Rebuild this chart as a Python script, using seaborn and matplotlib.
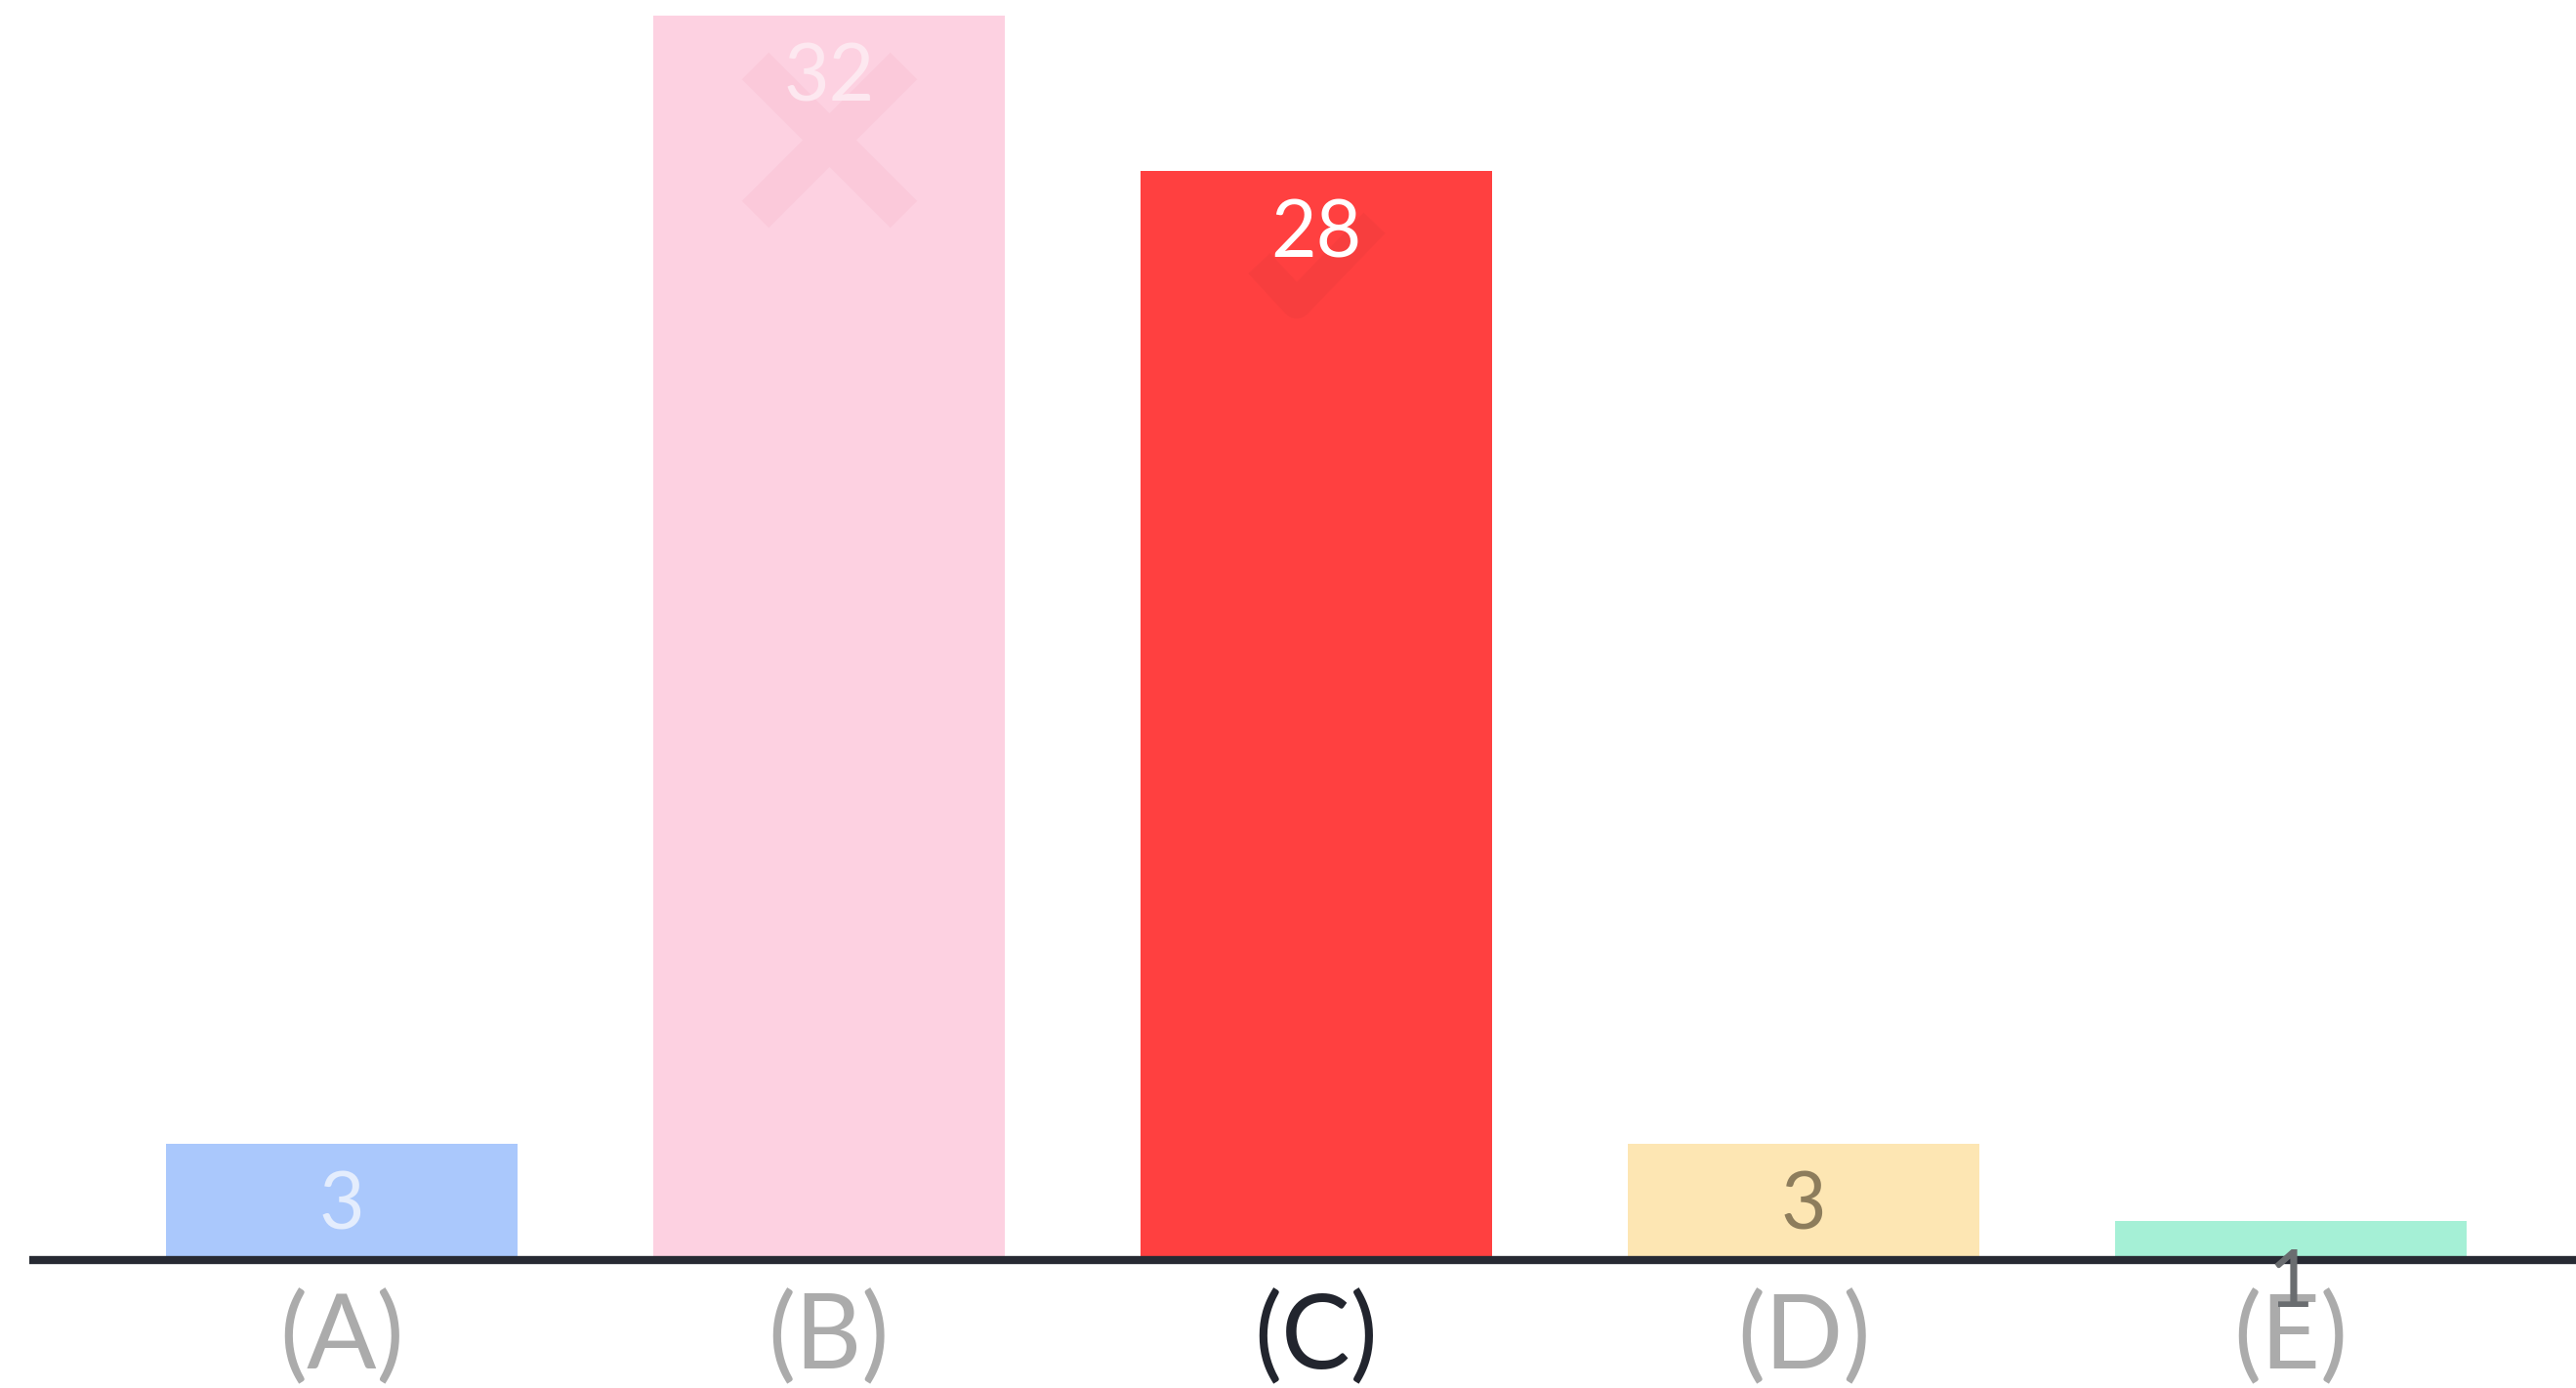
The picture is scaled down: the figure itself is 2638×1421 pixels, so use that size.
import matplotlib
matplotlib.use("Agg")
import matplotlib.pyplot as plt
from matplotlib.path import Path
import seaborn as sns
import pandas as pd

# Answer options and response counts
options = ["(A)", "(B)", "(C)", "(D)", "(E)"]
counts = [3, 32, 28, 3, 1]
bar_colors = ["#aac8fc", "#fdd1e1", "#ff4040", "#fde6b3", "#a5f0d6"]
value_colors = ["#e4edfd", "#fde8f0", "#ffffff", "#8d7d5c", "#6a6d70"]
tick_colors = ["#ababab", "#ababab", "#22252e", "#ababab", "#ababab"]

sns.set_theme(style="white")
plt.rcParams["font.family"] = ["Lato", "DejaVu Sans"]

df = pd.DataFrame({"option": options, "count": counts})

fig = plt.figure(figsize=(26.38, 14.21), dpi=100)
W, H = 2638, 1421
ax = fig.add_axes([30 / W, (H - 1290) / H, (W - 30) / W, 1290 / H])

sns.barplot(data=df, x="option", y="count", hue="option", palette=bar_colors,
            legend=False, width=0.72, linewidth=0, saturation=1, ax=ax)

ax.set_xlim(-0.641, 4.585)
ax.set_ylim(0, 32.4)
ax.set_xlabel("")
ax.set_ylabel("")
ax.set_yticks([])

for s in ["top", "right", "left"]:
    ax.spines[s].set_visible(False)
ax.spines["bottom"].set_color("#272a33")
ax.spines["bottom"].set_linewidth(6)
ax.spines["bottom"].set_capstyle("butt")
ax.spines["bottom"].set_zorder(5)

ax.tick_params(axis="x", length=0, pad=22, labelsize=76)
for lbl, c in zip(ax.get_xticklabels(), tick_colors):
    lbl.set_color(c)

# Faint marks inside the bars: a cross on the most chosen wrong answer, a tick on the right one
check = Path([(-1.0, 0.1), (-0.35, -0.6), (1.0, 0.8)],
             [Path.MOVETO, Path.LINETO, Path.LINETO])
ax.plot([1], [counts[1] - 3.2], marker="x", markersize=110, markeredgewidth=28,
        color="#f7b9cd", alpha=0.3, zorder=3, solid_capstyle="round")
ax.plot([2], [counts[2] - 2.5], marker=check, markersize=85, markerfacecolor="none",
        markeredgecolor="#d63a3a", markeredgewidth=22, alpha=0.18, zorder=3)

# Value labels just inside the top of each bar
offset = 65 / 1290 * 32.4
for i, (v, c) in enumerate(zip(counts, value_colors)):
    ax.text(i, v - offset, str(v), ha="center", va="center",
            fontsize=58, color=c, zorder=6)

fig.savefig("out.png", dpi=100, facecolor="white")
